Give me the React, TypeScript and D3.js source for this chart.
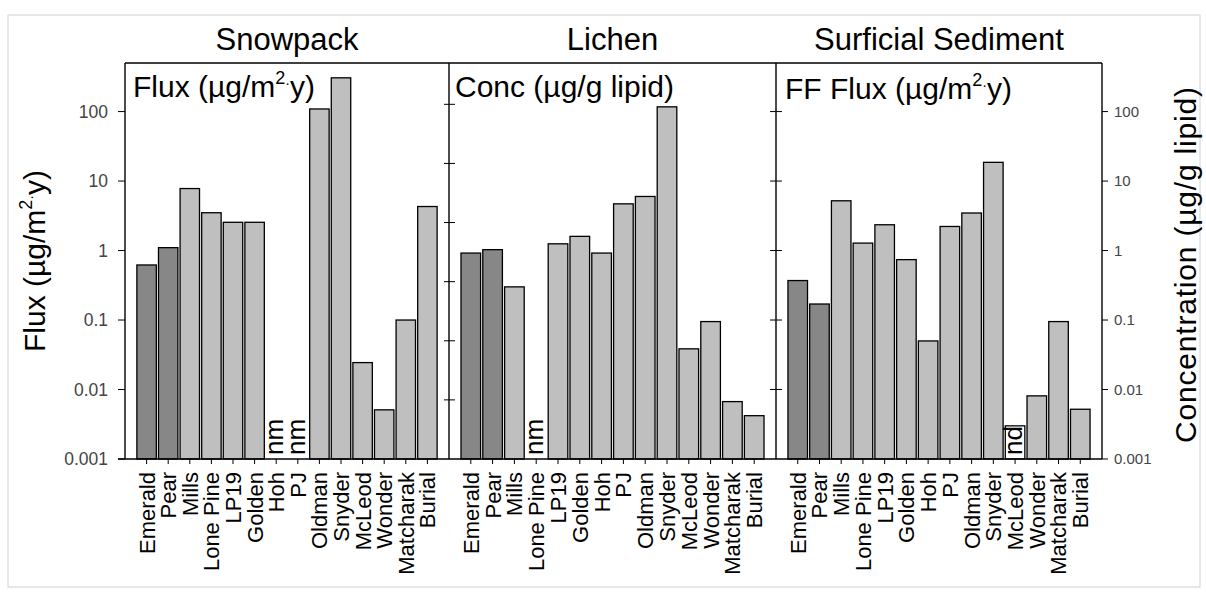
import React from "react";
import * as d3 from "d3";

const sites = ["Emerald", "Pear", "Mills", "Lone Pine", "LP19", "Golden", "Hoh", "PJ", "Oldman", "Snyder", "McLeod", "Wonder", "Matcharak", "Burial"];
const darkSites = ["Emerald", "Pear"];

// null = not measured / not detected
const snowpackFlux = [0.62, 1.1, 7.8, 3.5, 2.55, 2.55, null, null, 109, 306, 0.0244, 0.0051, 0.1, 4.3];
const lichenConc = [0.92, 1.03, 0.3, null, 1.25, 1.6, 0.92, 4.7, 6.0, 117, 0.0385, 0.095, 0.0067, 0.0042];
const sedimentFlux = [0.37, 0.17, 5.2, 1.28, 2.35, 0.74, 0.05, 2.22, 3.47, 18.6, null, 0.0081, 0.095, 0.0052];

const panelTitles = ["Snowpack", "Lichen", "Surficial Sediment"];
const missingLabels = ["nm", "nm", "nd"];
const ndBoxValue = 0.003;

const yTicks = [0.001, 0.01, 0.1, 1, 10, 100];
const yTickLabels = ["0.001", "0.01", "0.1", "1", "10", "100"];
const yDomain = [0.001, 500];
const innerTicks = [0.01, 0.1, 1, 10, 100, 1000];
const innerDomain = [0.001, 5000];

const FONT = "'Liberation Sans', Arial, Helvetica, sans-serif";

export default function App() {
  const W = 1206, H = 595;
  const top = 63, bottom = 459;
  const panelEdges = [125, 449, 776, 1102];
  const y = d3.scaleLog().domain(yDomain).range([bottom, top]);
  const yInner = d3.scaleLog().domain(innerDomain).range([bottom, top]);
  const series = [snowpackFlux, lichenConc, sedimentFlux];

  const panels = series.map((vals, p) => {
    const x = d3.scalePoint<string>().domain(sites).range([panelEdges[p], panelEdges[p + 1]]).padding(1);
    const bw = x.step() * 0.9;
    return (
      <g key={p}>
        {sites.map((s, i) => {
          const v = vals[i];
          const cx = x(s)!;
          if (v == null) {
            const isNd = missingLabels[p] === "nd";
            return (
              <g key={s}>
                {isNd && (
                  <rect x={cx - bw / 2} y={y(ndBoxValue)} width={bw} height={bottom - y(ndBoxValue)} fill="#fff" stroke="#000" strokeWidth={1.3} />
                )}
                <text transform={`translate(${cx},${bottom - 4}) rotate(-90)`} dy={7} fontSize={26} fontFamily={FONT} fill="#000" textAnchor="start">
                  {missingLabels[p]}
                </text>
              </g>
            );
          }
          return (
            <rect key={s} x={cx - bw / 2} y={y(v)} width={bw} height={bottom - y(v)}
              fill={darkSites.includes(s) ? "#878787" : "#bfbfbf"} stroke="#000" strokeWidth={1.3} />
          );
        })}
        {sites.map((s) => (
          <g key={"t" + s}>
            <line x1={x(s)} x2={x(s)} y1={bottom} y2={bottom + 5} stroke="#000" strokeWidth={1} />
            <text transform={`translate(${x(s)},${bottom + 13}) rotate(-90)`} dy="0.36em" textAnchor="end" fontSize={22} fontFamily={FONT} fill="#000">
              {s}
            </text>
          </g>
        ))}
        <text x={(panelEdges[p] + panelEdges[p + 1]) / 2} y={50} textAnchor="middle" fontSize={31} fontFamily={FONT} fill="#000">
          {panelTitles[p]}
        </text>
      </g>
    );
  });

  const sup = (pre: string) => (
    <>
      {pre}
      <tspan dy={-13} fontSize={18}>2</tspan>
      <tspan dy={4} fontSize={14}>·</tspan>
      <tspan dy={9}>y)</tspan>
    </>
  );

  return (
    <svg width={W} height={H} style={{ position: "absolute", left: 0, top: 0, background: "#fff" }}>
      <rect x={8} y={15} width={1192} height={572} fill="#fff" stroke="#d0d0d0" strokeWidth={1} />
      {panels}
      {/* frame */}
      <line x1={panelEdges[0]} x2={panelEdges[3]} y1={top} y2={top} stroke="#000" strokeWidth={1.4} />
      <line x1={panelEdges[0] - 7} x2={panelEdges[3]} y1={bottom} y2={bottom} stroke="#000" strokeWidth={1.4} />
      {panelEdges.map((e, i) => (
        <line key={i} x1={e} x2={e} y1={top} y2={bottom} stroke="#000" strokeWidth={1.4} />
      ))}
      {/* left axis */}
      {yTicks.map((t, i) => (
        <g key={"l" + i}>
          <line x1={panelEdges[0] - 7} x2={panelEdges[0]} y1={y(t)} y2={y(t)} stroke="#000" strokeWidth={1} />
          <text x={panelEdges[0] - 17} y={y(t)} dy="0.36em" textAnchor="end" fontSize={17.5} fontFamily={FONT} fill="#444">
            {yTickLabels[i]}
          </text>
        </g>
      ))}
      {/* divider ticks */}
      {innerTicks.map((t, i) => (
        <line key={"d1" + i} x1={panelEdges[1] - 5} x2={panelEdges[1] + 6} y1={yInner(t)} y2={yInner(t)} stroke="#000" strokeWidth={1} />
      ))}
      {yTicks.slice(1).map((t, i) => (
        <line key={"d2" + i} x1={panelEdges[2] - 6} x2={panelEdges[2] + 6} y1={y(t)} y2={y(t)} stroke="#000" strokeWidth={1} />
      ))}
      {/* right axis */}
      {yTicks.map((t, i) => (
        <g key={"r" + i}>
          <line x1={panelEdges[3]} x2={panelEdges[3] + 6} y1={y(t)} y2={y(t)} stroke="#000" strokeWidth={1} />
          <text x={panelEdges[3] + 12} y={y(t)} dy="0.36em" textAnchor="start" fontSize={15} fontFamily={FONT} fill="#444">
            {yTickLabels[i]}
          </text>
        </g>
      ))}
      {/* panel labels */}
      <text x={133} y={97} fontSize={30} fontFamily={FONT} fill="#000">{sup("Flux (µg/m")}</text>
      <text x={455} y={97} fontSize={30} fontFamily={FONT} fill="#000">Conc (µg/g lipid)</text>
      <text x={785} y={99} fontSize={30} fontFamily={FONT} fill="#000">{sup("FF Flux (µg/m")}</text>
      {/* axis titles */}
      <text transform={`translate(45,${(top + bottom) / 2}) rotate(-90)`} textAnchor="middle" fontSize={30} fontFamily={FONT} fill="#000">
        {sup("Flux (µg/m")}
      </text>
      <text transform={`translate(1196,${(top + bottom) / 2 + 4}) rotate(-90)`} textAnchor="middle" fontSize={30} textLength={356} lengthAdjust="spacing" fontFamily={FONT} fill="#000">
        Concentration (µg/g lipid)
      </text>
    </svg>
  );
}
